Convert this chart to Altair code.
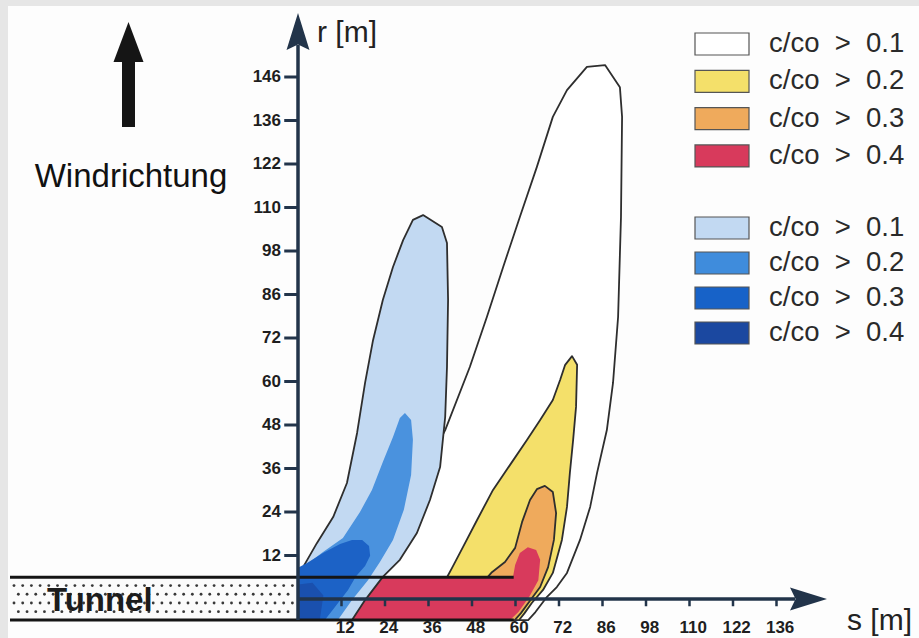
import altair as alt
import numpy as np
import pandas as pd

# ---------------- data: plume outlines, (s, r) in metres ----------------
# series A (outline / yellow / orange / red)
white_s = [14.9, 22.6, 29.5, 35.6, 40.6, 47.4, 52.1, 56.6, 61.2, 65.9, 70.3, 74.2, 79.7, 84.7,
           88.8, 89.4, 89.1, 88.3, 86.9, 85.2, 82.5, 80.6, 77.8, 74.2, 71.4, 68.7, 65.5, 63.5]
white_r = [-5.8, 9.4, 24.6, 37.0, 46.6, 64.0, 77.8, 91.6, 105.4, 119.2, 133.0, 140.4, 146.8, 147.3,
           141.2, 133.0, 105.4, 77.8, 59.6, 46.6, 34.8, 25.4, 16.3, 7.2, 3.3, 0.6, -3.6, -5.8]

yellow_s = [41.1, 41.1, 42.5, 45.5, 49.4, 53.8, 58.5, 63.2, 66.8, 70.3, 72.3, 73.7, 75.6, 77.0,
            76.7, 75.9, 75.0, 74.2, 72.8, 70.3, 67.6, 64.5, 62.5, 61.0]
yellow_r = [-5.8, 6.0, 8.6, 14.3, 21.8, 30.1, 37.0, 43.9, 49.4, 54.9, 60.4, 64.6, 67.0, 64.6,
            53.0, 43.9, 34.8, 25.4, 16.3, 7.2, 2.5, -1.1, -3.9, -5.8]

orange_s = [51.6, 51.6, 53.5, 57.1, 59.9, 61.8, 64.0, 65.9, 68.1, 70.3, 71.2, 70.6, 69.0, 66.8,
            64.0, 61.5, 59.8]
orange_r = [-5.8, 5.2, 7.4, 10.2, 14.1, 21.2, 27.3, 30.3, 31.2, 29.5, 23.7, 16.3, 8.8, 3.3,
            -0.5, -3.9, -5.8]

red_s = [14.9, 18.5, 22.1, 59.3, 59.9, 61.2, 63.4, 65.7, 66.8, 66.3, 63.8, 60.8, 58.5]
red_r = [-5.8, -0.3, 6.0, 6.0, 9.4, 12.7, 14.3, 13.5, 10.8, 5.2, 0.6, -3.6, -5.8]

# series B (blue tones)
lblue_s = [0.0, 0.0, 1.4, 5.2, 9.7, 13.5, 16.3, 18.5, 20.7, 23.4, 26.2, 29.0, 31.7, 34.5,
           39.7, 41.1, 41.4, 41.1, 40.6, 39.2, 36.4, 32.8, 28.1, 23.4, 18.5, 14.9]
lblue_r = [-5.8, 6.6, 8.8, 15.4, 22.6, 32.0, 45.8, 59.6, 71.4, 82.5, 91.6, 99.0, 104.6, 105.9,
           102.6, 98.2, 82.5, 64.0, 50.2, 36.4, 27.3, 18.2, 10.8, 6.1, -0.3, -5.8]

mblue_s = [0.0, 0.0, 3.3, 6.9, 12.4, 17.1, 20.4, 23.4, 26.2, 28.1, 29.5, 31.2, 31.7, 31.2,
           29.2, 26.2, 22.6, 19.3, 14.9, 11.0]
mblue_r = [-5.8, 8.0, 10.2, 13.0, 16.8, 24.0, 30.1, 37.8, 44.7, 49.9, 51.3, 49.4, 43.9, 34.2,
           24.6, 16.3, 10.2, 5.2, -0.3, -5.8]

dblue_s = [0.0, 0.0, 2.5, 6.9, 11.6, 14.9, 17.7, 19.6, 19.9, 18.5, 16.0, 13.8, 10.2, 7.4]
dblue_r = [-5.8, 8.6, 9.9, 12.7, 15.2, 16.3, 16.3, 14.6, 11.9, 9.1, 6.3, 2.5, -2.2, -5.8]

ddblue_s = [0.0, 0.0, 4.0, 7.0, 6.0]
ddblue_r = [-5.8, 4.0, 4.5, 1.0, -5.8]

# axes
x_tick_values = [12, 24, 36, 48, 60, 72, 84, 96, 108, 120, 132]
x_tick_labels = ["12", "24", "36", "48", "60", "72", "86", "98", "110", "122", "136"]
y_tick_values = [12, 24, 36, 48, 60, 72, 84, 96, 108, 120, 132, 144]
y_tick_labels = ["12", "24", "36", "48", "60", "72", "86", "98", "110", "122", "136", "146"]

# legend
legend_labels = ["c/co > 0.1", "c/co > 0.2", "c/co > 0.3", "c/co > 0.4"]
legend_colors_a = ["#ffffff", "#f4e06a", "#efaa5c", "#d83a5c"]
legend_colors_b = ["#c2d9f2", "#3f8cdc", "#1762c8", "#1b48a0"]

# ---------------- geometry ----------------
PX = 3.625
OX, OY = 298.0, 599.0
W, H = 919, 638
T_TOP, T_BOT = 6.0, -5.8
AX = "#22344a"


def to_s(px):
    return (px - OX) / PX


def to_r(py):
    return (OY - py) / PX


SX = alt.Scale(domain=[to_s(0), to_s(W)], nice=False, zero=False)
SY = alt.Scale(domain=[to_r(H), to_r(0)], nice=False, zero=False)
XE = alt.X("s:Q", scale=SX, axis=None)
YE = alt.Y("r:Q", scale=SY, axis=None)

layers = []


def rect(df, **kw):
    return alt.Chart(df).mark_rect(**kw).encode(x=XE, x2="s2:Q", y=YE, y2="r2:Q")


def rule(df, **kw):
    return alt.Chart(df).mark_rule(**kw).encode(x=XE, x2="s2:Q", y=YE, y2="r2:Q")


def poly(s, r, fill, stroke=None, sw=1.8):
    df = pd.DataFrame({"s": list(s) + [s[0]], "r": list(r) + [r[0]]})
    df["i"] = range(len(df))
    kw = dict(fill=fill, strokeWidth=sw if stroke else 0, strokeJoin="round")
    kw["stroke"] = stroke if stroke else fill
    return alt.Chart(df).mark_line(**kw).encode(x=XE, y=YE, order="i:Q")


def text(df, **kw):
    return alt.Chart(df).mark_text(**kw).encode(x=XE, y=YE, text="t:N")


# paper
layers.append(rect(pd.DataFrame({"s": [to_s(8)], "s2": [to_s(W)], "r": [to_r(6)], "r2": [to_r(H)]}),
                   color="#fdfdfd"))

# tunnel band (left of the r axis)
layers.append(rect(pd.DataFrame({"s": [to_s(10)], "s2": [0.0], "r": [T_BOT], "r2": [T_TOP]}),
                   color="#fbfbfb"))
dot_rows = [3.7, 1.3, -1.1, -3.5]
ds, dr = [], []
for k, rr in enumerate(dot_rows):
    xs = np.arange(to_s(14) + (1.2 if k % 2 else 0.0), -0.8, 2.4)
    ds += list(xs)
    dr += [rr] * len(xs)
layers.append(alt.Chart(pd.DataFrame({"s": ds, "r": dr})).mark_circle(size=8, color="#222", opacity=0.9)
              .encode(x=XE, y=YE))
layers.append(text(pd.DataFrame({"s": [to_s(47)], "r": [to_r(601)], "t": ["Tunnel"]}),
                   align="left", baseline="middle", fontSize=33, fontWeight="bold",
                   font="Liberation Sans", color="#1c1c1c"))

# plumes
layers.append(poly(white_s, white_r, "#ffffff", "#2e2e2e"))
layers.append(poly(yellow_s, yellow_r, legend_colors_a[1], "#2e2e2e"))
layers.append(poly(orange_s, orange_r, legend_colors_a[2], "#2e2e2e"))
layers.append(poly(red_s, red_r, legend_colors_a[3]))
layers.append(poly(lblue_s, lblue_r, legend_colors_b[0], "#2e2e2e"))
layers.append(poly(mblue_s, mblue_r, "#4a92de"))
layers.append(poly(dblue_s, dblue_r, "#1c62c6"))
layers.append(poly(ddblue_s, ddblue_r, "#1a50ae"))

# tunnel walls
layers.append(rule(pd.DataFrame({"s": [to_s(10), to_s(10)], "s2": [59.5, 59.5],
                                 "r": [T_TOP, T_BOT], "r2": [T_TOP, T_BOT]}),
                   color="#151515", strokeWidth=3))

# axes lines
layers.append(rule(pd.DataFrame({"s": [0.0, 0.0], "s2": [0.0, to_s(795)],
                                 "r": [T_BOT, 0.0], "r2": [to_r(45), 0.0]}),
                   color=AX, strokeWidth=3.5))
layers.append(alt.Chart(pd.DataFrame({"s": [0.0], "r": [to_r(31.5)]}))
              .mark_point(shape="M0,-1L0.62,1L0,0.7L-0.62,1Z", size=1369, filled=True, opacity=1,
                          color=AX, strokeWidth=0).encode(x=XE, y=YE))
layers.append(alt.Chart(pd.DataFrame({"s": [to_s(808.5)], "r": [0.0]}))
              .mark_point(shape="M1,0L-1,0.62L-0.7,0L-1,-0.62Z", size=1369, filled=True, opacity=1,
                          color=AX, strokeWidth=0).encode(x=XE, y=YE))

# ticks
yt = pd.DataFrame({"r": y_tick_values, "r2": y_tick_values})
yt["s"], yt["s2"] = -3.8, 0.0
layers.append(rule(yt, color=AX, strokeWidth=3))
xt = pd.DataFrame({"s": x_tick_values, "s2": x_tick_values})
xt["r"], xt["r2"] = 0.0, -2.0
layers.append(rule(xt, color=AX, strokeWidth=2.5))

# tick labels
yl = pd.DataFrame({"r": y_tick_values, "t": y_tick_labels})
yl["s"] = to_s(281)
layers.append(text(yl, align="right", baseline="middle", fontSize=17, fontWeight="bold",
                   font="Liberation Sans", color="#1e1e1e"))
xl = pd.DataFrame({"s": [v + 1.0 for v in x_tick_values], "t": x_tick_labels})
xl["r"] = to_r(628)
layers.append(text(xl, align="center", baseline="middle", fontSize=17, fontWeight="bold",
                   font="Liberation Sans", color="#1e1e1e"))

# axis titles
layers.append(text(pd.DataFrame({"s": [to_s(317), to_s(847)], "r": [to_r(33), to_r(621)],
                                 "t": ["r\u00a0[m]", "s\u00a0[m]"]}),
                   align="left", baseline="middle", fontSize=30, font="Liberation Sans",
                   color="#222"))

# wind direction arrow + label
layers.append(rule(pd.DataFrame({"s": [to_s(128.5)], "s2": [to_s(128.5)],
                                 "r": [to_r(127)], "r2": [to_r(58)]}),
                   color="#151515", strokeWidth=13))
layers.append(alt.Chart(pd.DataFrame({"s": [to_s(128.5)], "r": [to_r(42)]}))
              .mark_point(shape="M0,-1L0.75,1L-0.75,1Z", size=1600, filled=True, opacity=1,
                          color="#151515", strokeWidth=0).encode(x=XE, y=YE))
layers.append(text(pd.DataFrame({"s": [to_s(131)], "r": [to_r(187)], "t": ["Windrichtung"]}),
                   align="center", baseline="alphabetic", fontSize=33, font="Liberation Sans",
                   color="#111"))

# legend
rows_py = [44 + 37.3 * k for k in range(4)] + [228 + 35.0 * k for k in range(4)]
leg = pd.DataFrame({
    "py": rows_py,
    "fill": legend_colors_a + legend_colors_b,
    "t": [l.replace(" ", "\u00a0\u00a0") for l in legend_labels] * 2,
})
leg["r"] = leg["py"].map(lambda v: to_r(v - 11))
leg["r2"] = leg["py"].map(lambda v: to_r(v + 11))
leg["s"], leg["s2"] = to_s(695), to_s(749)
layers.append(alt.Chart(leg).mark_rect(stroke="#555", strokeWidth=1.2)
              .encode(x=XE, x2="s2:Q", y=YE, y2="r2:Q", fill=alt.Fill("fill:N", scale=None)))
legt = leg.copy()
legt["r"] = legt["py"].map(to_r)
legt["s"] = to_s(769)
layers.append(text(legt, align="left", baseline="middle", fontSize=27.5, font="Liberation Sans",
                   color="#2a2a2a"))

chart = alt.layer(*layers).properties(
    width=W, height=H, padding=0, background="#e6e6e6",
    autosize=alt.AutoSizeParams(type="none"),
).configure_view(stroke=None)

chart.save("out.html", embed_options={"renderer": "svg", "actions": False})
